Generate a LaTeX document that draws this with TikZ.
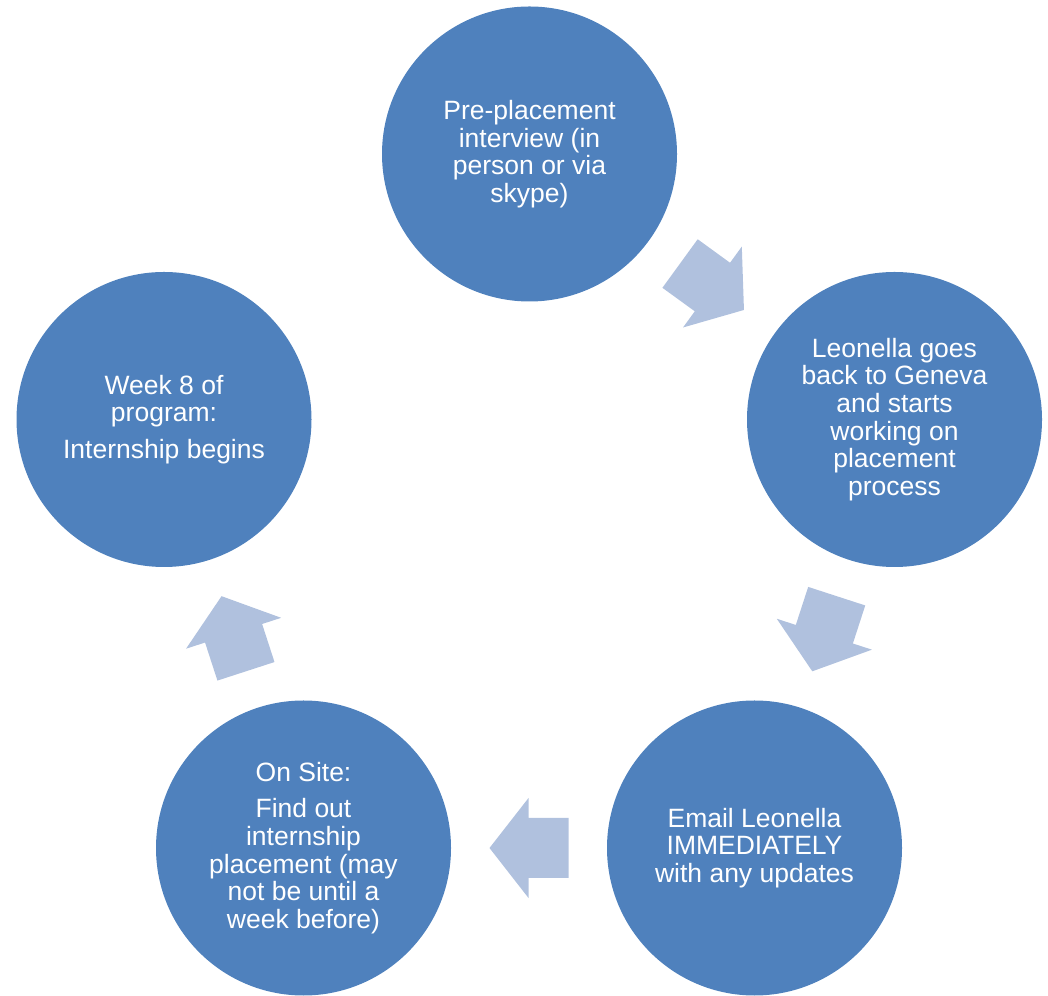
\documentclass[tikz,border=0pt]{standalone}
\usepackage{fontspec}
\setmainfont{Liberation Sans}
\usetikzlibrary{calc}
\definecolor{stageblue}{HTML}{4F81BD}
\definecolor{arrowblue}{HTML}{B0C1DE}
\tikzset{
  stage/.style={circle, fill=stageblue, minimum size=295pt, inner sep=0pt,
    text=white, align=center, font=\fontsize{26.5}{27.6}\selectfont},
  cyclearrow/.pic={\fill[arrowblue] (-39.5,-30) -- (0.5,-30) -- (0.5,-50) -- (39.5,0)
    -- (0.5,50) -- (0.5,30) -- (-39.5,30) -- cycle;}
}
\begin{document}
\begin{tikzpicture}[x=1pt, y=1pt]
\useasboundingbox (0,0) rectangle (1048,995);
% stages of the cycle
\node[stage] (pre) at (529.5,841){Pre-placement\\interview (in\\person or via\\skype)};
\node[stage] (back) at (894.5,575.5){Leonella goes\\back to Geneva\\and starts\\working on\\placement\\process};
\node[stage] (email) at (754.5,147){Email Leonella\\IMMEDIATELY\\with any updates};
\node[stage] (site) at (303.5,147){On Site:\\[9pt]Find out\\internship\\placement (may\\not be until a\\week before)};
\node[stage] (week) at (164,575.5){Week 8 of\\program:\\[9pt]Internship begins};
% arrows between stages
\pic[rotate=-36] at ($(pre)!0.5!(back)$) {cyclearrow};
\pic[rotate=-108] at ($(back)!0.5!(email)$) {cyclearrow};
\pic[rotate=180] at ($(email)!0.5!(site)$) {cyclearrow};
\pic[rotate=108] at ($(site)!0.5!(week)$) {cyclearrow};
\end{tikzpicture}
\end{document}
